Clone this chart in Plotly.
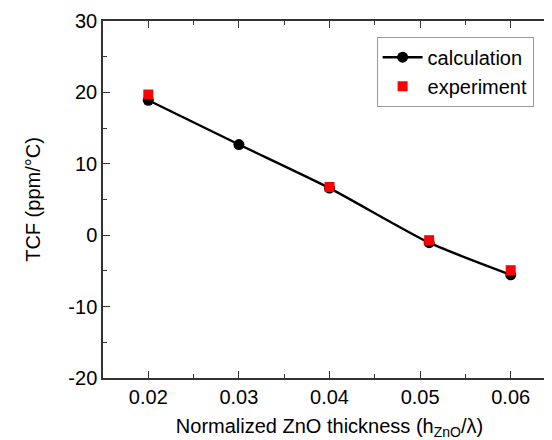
import plotly.graph_objects as go

# Data
calc_x = [0.02, 0.03, 0.04, 0.051, 0.06]
calc_y = [18.9, 12.7, 6.6, -1.05, -5.55]
exp_x = [0.02, 0.04, 0.051, 0.06]
exp_y = [19.7, 6.75, -0.7, -4.9]

x_ticks = [0.02, 0.03, 0.04, 0.05, 0.06]
y_ticks = [-20, -10, 0, 10, 20, 30]

FONT = "Arial, Liberation Sans, sans-serif"
AXC = "#333333"

fig = go.Figure()
fig.add_trace(go.Scatter(
    x=calc_x, y=calc_y, mode="lines+markers", name="calculation",
    line=dict(color="black", width=2.4, shape="spline", smoothing=0.6),
    marker=dict(symbol="circle", size=11, color="black"),
))
fig.add_trace(go.Scatter(
    x=exp_x, y=exp_y, mode="markers", name="experiment",
    marker=dict(symbol="square", size=10, color="#ff0000"),
))

axis_common = dict(
    showgrid=False, zeroline=False, showline=True, linecolor=AXC, linewidth=1.5,
    mirror="allticks", ticks="inside", ticklen=7, tickwidth=1.3, tickcolor=AXC,
    tickfont=dict(family=FONT, size=20, color="black"),
)

fig.update_xaxes(
    range=[0.015, 0.065], tickvals=x_ticks, ticktext=[f"{v:.2f}" for v in x_ticks],
    minor=dict(ticks="inside", ticklen=4, tickwidth=1.3, tickcolor=AXC, dtick=0.005, tick0=0.015),
    title=dict(text="Normalized ZnO thickness (h<sub>ZnO</sub>/λ)",
               font=dict(family=FONT, size=20, color="black"), standoff=12),
    **axis_common,
)
fig.update_yaxes(
    range=[-20, 30], tickvals=y_ticks, ticktext=[str(v) for v in y_ticks],
    minor=dict(ticks="inside", ticklen=4, tickwidth=1.3, tickcolor=AXC, dtick=5, tick0=-20),
    title=dict(text="TCF (ppm/°C)", font=dict(family=FONT, size=20, color="black"), standoff=22),
    **axis_common,
)

fig.update_layout(
    width=552, height=440,
    margin=dict(l=95, r=2, t=11, b=70),
    paper_bgcolor="white", plot_bgcolor="white",
    showlegend=True,
    legend=dict(
        x=0.604, y=0.956, xanchor="left", yanchor="top",
        bgcolor="white", bordercolor="#999999", borderwidth=1,
        font=dict(family=FONT, size=20, color="black"),
        tracegroupgap=0, itemwidth=40,
    ),
)

fig.write_html("out.html")
